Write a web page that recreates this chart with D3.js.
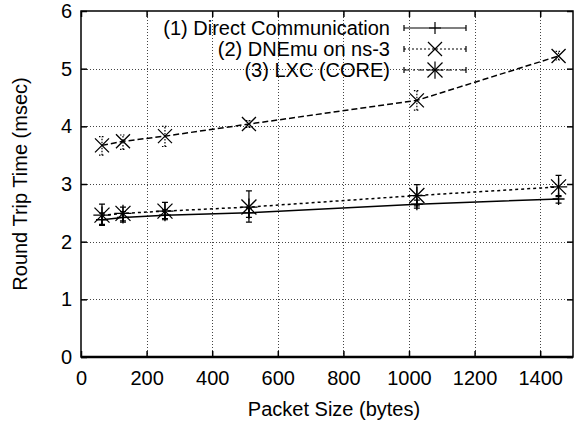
<!DOCTYPE html>
<html>
<head>
<meta charset="utf-8">
<script src="https://cdnjs.cloudflare.com/ajax/libs/d3/7.8.5/d3.min.js"></script>
<style>
  body { margin: 0; background: #fff; }
  text { font-family: "Liberation Sans", Arial, sans-serif; fill: #000; }
</style>
</head>
<body>
<script>
// packet sizes (bytes)
var sizes = [64, 128, 256, 512, 1024, 1456];

// (1) Direct Communication
var directMean = [2.38, 2.42, 2.46, 2.50, 2.65, 2.74];
var directLow  = [2.28, 2.34, 2.38, 2.42, 2.58, 2.67];
var directHigh = [2.50, 2.52, 2.55, 2.58, 2.72, 2.80];

// (2) DNEmu on ns-3
var dnemuMean = [3.67, 3.74, 3.83, 4.04, 4.45, 5.22];
var dnemuLow  = [3.50, 3.60, 3.65, 3.98, 4.28, 5.15];
var dnemuHigh = [3.82, 3.85, 4.00, 4.10, 4.62, 5.30];

// (3) LXC (CORE)
var lxcMean = [2.46, 2.49, 2.53, 2.60, 2.80, 2.95];
var lxcLow  = [2.30, 2.36, 2.40, 2.34, 2.62, 2.78];
var lxcHigh = [2.65, 2.60, 2.68, 2.88, 2.99, 3.15];

var xTicks = [0, 200, 400, 600, 800, 1000, 1200, 1400];
var yTicks = [0, 1, 2, 3, 4, 5, 6];
var names = ["(1) Direct Communication", "(2) DNEmu on ns-3", "(3) LXC (CORE)"];

drawChart();

function drawChart() {
  var width = 580, height = 421;
  var pL = 81, pR = 573, pT = 11, pB = 357;

  var svg = d3.select("body").append("svg")
      .attr("width", width)
      .attr("height", height);

  var x = d3.scaleLinear().domain([0, 1500]).range([pL, pR]);
  var y = d3.scaleLinear().domain([0, 6]).range([pB, pT]);

  //grid
  var grid = svg.append("g")
      .attr("stroke", "#444")
      .attr("stroke-width", 1)
      .attr("stroke-dasharray", "1,2");
  grid.selectAll(".gx")
      .data(xTicks.filter(function(d) { return d > 0; }))
      .enter().append("line")
      .attr("x1", function(d) { return Math.round(x(d)) + 0.5; })
      .attr("x2", function(d) { return Math.round(x(d)) + 0.5; })
      .attr("y1", pT).attr("y2", pB);
  grid.selectAll(".gy")
      .data(yTicks.filter(function(d) { return d > 0 && d < 6; }))
      .enter().append("line")
      .attr("y1", function(d) { return Math.round(y(d)) + 0.5; })
      .attr("y2", function(d) { return Math.round(y(d)) + 0.5; })
      .attr("x1", pL).attr("x2", pR);

  //axes with inward ticks on all four sides
  svg.append("g")
      .attr("transform", "translate(0," + pB + ")")
      .call(d3.axisBottom(x).tickValues(xTicks).tickFormat(d3.format("d"))
        .tickSizeInner(-6).tickSizeOuter(0).tickPadding(14));
  svg.append("g")
      .attr("transform", "translate(0," + pT + ")")
      .call(d3.axisTop(x).tickValues(xTicks).tickSizeInner(-6).tickSizeOuter(0).tickFormat(""));
  svg.append("g")
      .attr("transform", "translate(" + pL + ",0)")
      .call(d3.axisLeft(y).tickValues(yTicks).tickFormat(d3.format("d"))
        .tickSizeInner(-6).tickSizeOuter(0).tickPadding(9));
  svg.append("g")
      .attr("transform", "translate(" + pR + ",0)")
      .call(d3.axisRight(y).tickValues(yTicks).tickSizeInner(-6).tickSizeOuter(0).tickFormat(""));

  svg.selectAll(".domain").remove();
  svg.selectAll(".tick line").attr("stroke", "#000").attr("stroke-width", 1.5);
  svg.selectAll(".tick text").style("font-size", "20px").attr("fill", "#000");

  svg.append("rect")
      .attr("x", pL).attr("y", pT)
      .attr("width", pR - pL).attr("height", pB - pT)
      .attr("fill", "none").attr("stroke", "#000").attr("stroke-width", 1.5);
  svg.append("line")
      .attr("x1", pL).attr("x2", pR)
      .attr("y1", pB).attr("y2", pB)
      .attr("stroke", "#000").attr("stroke-width", 2.5);

  //axis titles
  svg.append("text")
      .attr("x", 334).attr("y", 416)
      .attr("text-anchor", "middle")
      .style("font-size", "20px")
      .text("Packet Size (bytes)");
  svg.append("text")
      .attr("transform", "translate(27," + ((pT + pB) / 2) + ") rotate(-90)")
      .attr("text-anchor", "middle")
      .style("font-size", "20px")
      .text("Round Trip Time (msec)");

  //markers
  function plusMark(g, cx, cy, r) {
    g.append("path").attr("d", "M" + (cx - r) + "," + cy + "H" + (cx + r) + "M" + cx + "," + (cy - r) + "V" + (cy + r));
  }
  function crossMark(g, cx, cy, r) {
    g.append("path").attr("d", "M" + (cx - r) + "," + (cy - r) + "L" + (cx + r) + "," + (cy + r) +
      "M" + (cx - r) + "," + (cy + r) + "L" + (cx + r) + "," + (cy - r));
  }
  function starMark(g, cx, cy, r) {
    plusMark(g, cx, cy, r * 1.15);
    crossMark(g, cx, cy, r);
  }

  var series = [
    {mean: directMean, low: directLow, high: directHigh, dash: null, barDash: null, mark: plusMark, r: 6, legDash: null},
    {mean: dnemuMean, low: dnemuLow, high: dnemuHigh, dash: "6,3", barDash: "1.5,1.5", mark: crossMark, r: 7, legDash: "2,2"},
    {mean: lxcMean, low: lxcLow, high: lxcHigh, dash: "3,3", barDash: null, mark: starMark, r: 7.5, legDash: "6,3,2,3"}
  ];

  var line = d3.line()
      .x(function(d) { return x(d[0]); })
      .y(function(d) { return y(d[1]); });

  series.forEach(function(s) {
    var g = svg.append("g").attr("fill", "none").attr("stroke", "#000");
    g.append("path")
        .datum(sizes.map(function(v, i) { return [v, s.mean[i]]; }))
        .attr("d", line)
        .attr("stroke-width", 1.5)
        .attr("stroke-dasharray", s.dash);

    var bars = g.append("g").attr("stroke-width", 1.2).attr("stroke-dasharray", s.barDash);
    sizes.forEach(function(v, i) {
      var cx = x(v);
      bars.append("path").attr("d",
        "M" + cx + "," + y(s.low[i]) + "V" + y(s.high[i]) +
        "M" + (cx - 3) + "," + y(s.low[i]) + "H" + (cx + 3) +
        "M" + (cx - 3) + "," + y(s.high[i]) + "H" + (cx + 3));
      var mg = g.append("g").attr("stroke-width", 1.3);
      s.mark(mg, cx, y(s.mean[i]), s.r);
    });
  });

  //legend
  var legY = [28, 49, 70];
  series.forEach(function(s, i) {
    svg.append("text")
        .attr("x", 390).attr("y", legY[i])
        .attr("dy", "0.35em")
        .attr("text-anchor", "end")
        .style("font-size", "20px")
        .text(names[i]);
    var g = svg.append("g").attr("fill", "none").attr("stroke", "#000").attr("stroke-width", 1.2);
    g.append("path")
        .attr("d", "M404," + legY[i] + "H466")
        .attr("stroke-dasharray", s.legDash);
    g.append("path").attr("d", "M404," + (legY[i] - 3) + "V" + (legY[i] + 3) + "M466," + (legY[i] - 3) + "V" + (legY[i] + 3));
    s.mark(g, 435, legY[i], s.r);
  });
}
</script>
</body>
</html>
